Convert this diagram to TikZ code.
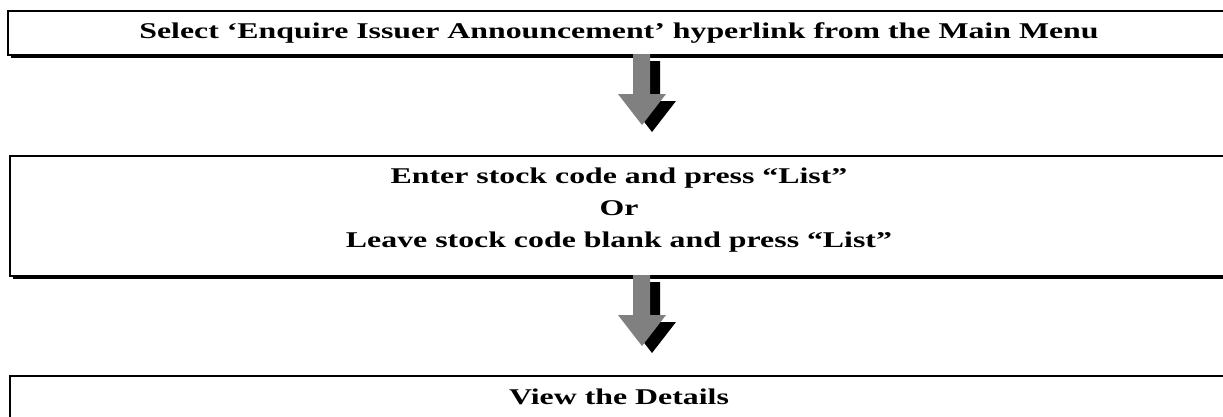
\documentclass[tikz,border=0pt]{standalone}
\usepackage{fontspec}
\usepackage{graphicx}
\setmainfont{Liberation Serif}
\newcommand{\wide}[1]{\scalebox{1.415}[1]{#1}}
\begin{document}
\begin{tikzpicture}[x=1pt,y=-1pt,
  box/.style={draw=black, line width=2pt, fill=white, rectangle, inner sep=0pt},
  lbl/.style={font=\fontsize{22.5}{32}\selectfont\bfseries, align=center, inner sep=0pt},
  garrow/.style={fill=black!50},
  sarrow/.style={fill=black}]
\useasboundingbox (0,0) rectangle (1223,416);
\clip (0,0) rectangle (1223,416);
\fill[white] (0,0) rectangle (1223,416);
% shadows
\fill (11,14) rectangle (1240,58);
\fill (13,159) rectangle (1240,279);
\fill (13,379) rectangle (1240,440);
% boxes
\node[box, minimum width=1222pt, minimum height=44pt] (b1) at (619,33) {};
\node[box, minimum width=1220pt, minimum height=120pt] (b2) at (620,216) {};
\node[box, minimum width=1220pt, minimum height=80pt] (b3) at (620,416) {};
% texts
\node[lbl] (t1) at (619,33) {\wide{Select ‘Enquire Issuer Announcement’ hyperlink from the Main Menu}};
\node[lbl] (t2) at (619,210) {\wide{Enter stock code and press “List”}\\\wide{Or}\\\wide{Leave stock code blank and press “List”}};
\node[lbl] (t3) at (619,397) {\wide{View the Details}};
% arrows
\foreach \dy/\nm in {0/a1,221/a2}{
  \begin{scope}[yshift=-\dy pt]
  \fill[sarrow,shift={(10,7)}] (633,54) -- (650,54) -- (650,94) -- (666,94) -- (642,125) -- (618,94) -- (633,94) -- cycle;
  \fill[garrow] (633,54) -- (650,54) -- (650,94) -- (666,94) -- (642,125) -- (618,94) -- (633,94) -- cycle;
  \end{scope}
}
\end{tikzpicture}
\end{document}
